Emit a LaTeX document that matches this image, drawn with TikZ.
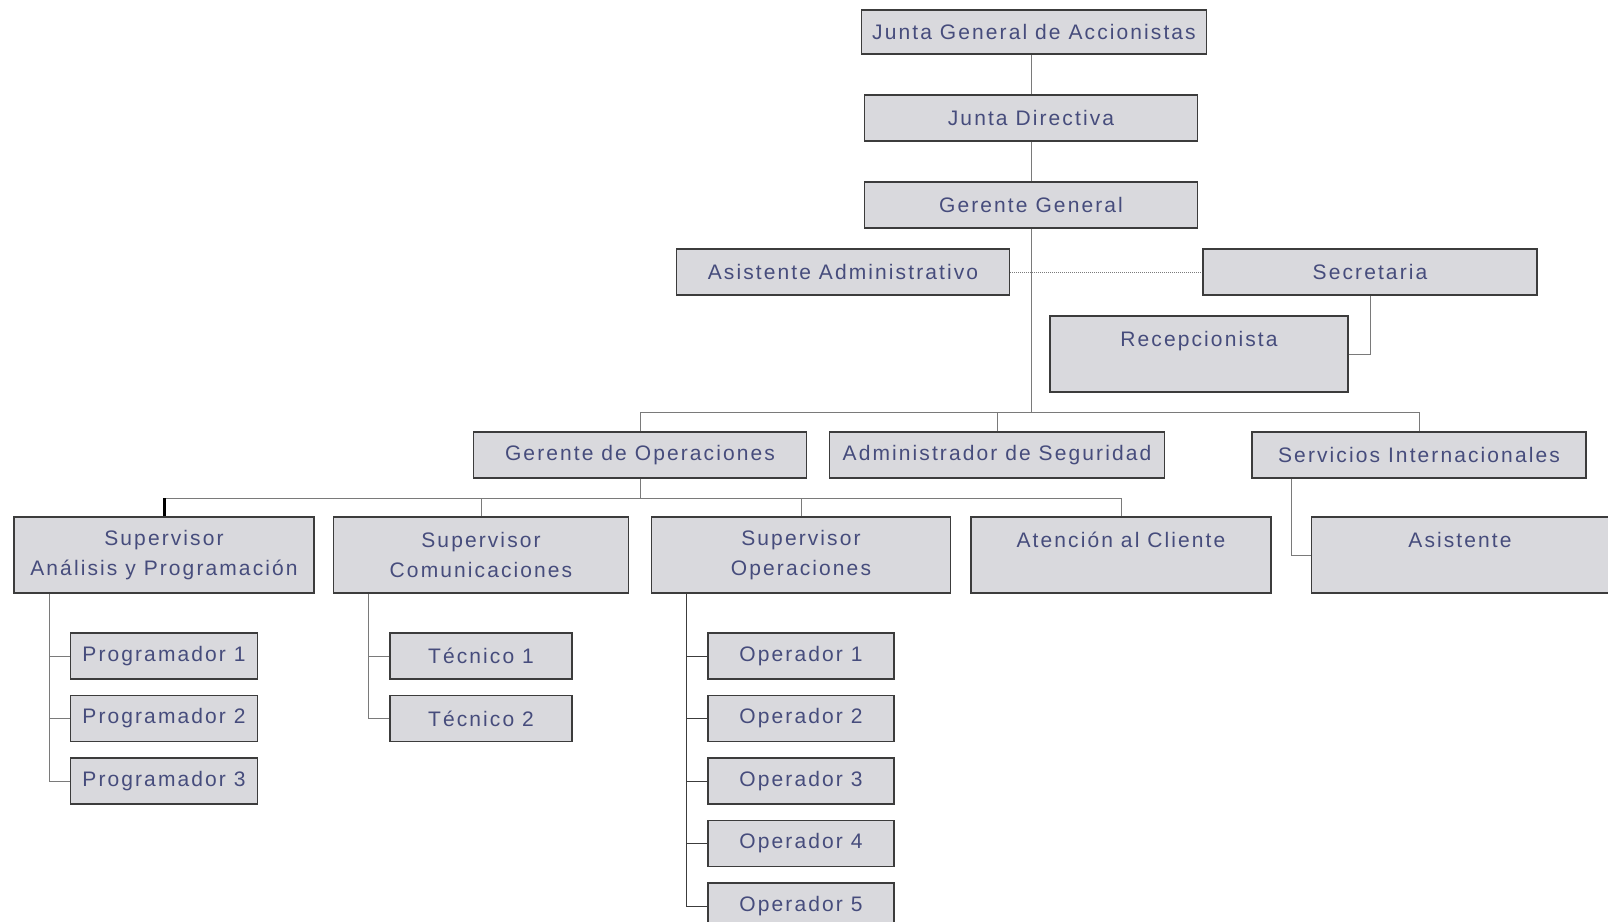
\documentclass[tikz,border=0pt]{standalone}
\usepackage{fontspec}
\setmainfont[LetterSpace=10]{Liberation Sans}
\usetikzlibrary{positioning}
\definecolor{cajafondo}{HTML}{D9D9DD}
\definecolor{cajaborde}{HTML}{3C3C3C}
\definecolor{textoazul}{HTML}{464C7C}
\definecolor{lineagris}{HTML}{7A7A7A}

\begin{document}
\begin{tikzpicture}[x=1pt, y=-1pt,
        puesto/.style={rectangle, draw=cajaborde, fill=cajafondo, line width=1.5pt,
            text=textoazul, align=center, minimum height=46pt,
            font=\fontsize{21}{30}\selectfont},
        alto/.style={minimum height=76pt},
        linea/.style={draw=lineagris, line width=1pt}]
        \useasboundingbox (0,0) rectangle (1608,921);

        % direccion
        \node[puesto, minimum width=345pt, minimum height=44pt] (junta) at (1034,32) {Junta General de Accionistas};
        \node[puesto, minimum width=333pt] (directiva) at (1031,118) {Junta Directiva};
        \node[puesto, minimum width=333pt] (gerente) at (1031,205) {Gerente General};
        \node[puesto, minimum width=333pt] (asistadm) at (843,272) {Asistente Administrativo};
        \node[puesto, minimum width=334pt] (secre) at (1370,272) {Secretaria};
        \node[puesto, alto, minimum width=298pt] (recep) at (1199,354) {Recepcionista\\\mbox{}};

        % gerencias
        \node[puesto, minimum width=333pt] (gerop) at (640,455) {Gerente de Operaciones};
        \node[puesto, minimum width=335pt] (admseg) at (997,455) {Administrador de Seguridad};
        \node[puesto, minimum width=334pt] (servint) at (1419,455) {Servicios Internacionales};

        % supervisores
        \node[puesto, alto, minimum width=300pt] (supanal) at (164,555) {Supervisor\\Análisis y Programación};
        \node[puesto, alto, minimum width=295pt] (supcom) at (481,555) {Supervisor\\Comunicaciones};
        \node[puesto, alto, minimum width=299pt] (supop) at (801,555) {Supervisor\\Operaciones};
        \node[puesto, alto, minimum width=300pt] (atencion) at (1121,555) {Atención al Cliente\\\mbox{}};
        \node[puesto, alto, minimum width=297pt] (asist) at (1460,555) {Asistente\\\mbox{}};

        % personal
        \node[puesto, minimum width=187pt] (prog1) at (164,656) {Programador 1};
        \node[puesto, minimum width=187pt] (prog2) [below=15pt of prog1] {Programador 2};
        \node[puesto, minimum width=187pt] (prog3) [below=15pt of prog2] {Programador 3};
        \node[puesto, minimum width=182pt] (tec1) at (481,656) {Técnico 1};
        \node[puesto, minimum width=182pt] (tec2) [below=15pt of tec1] {Técnico 2};
        \node[puesto, minimum width=186pt] (oper1) at (801,656) {Operador 1};
        \node[puesto, minimum width=186pt] (oper2) [below=15pt of oper1] {Operador 2};
        \node[puesto, minimum width=186pt] (oper3) [below=15pt of oper2] {Operador 3};
        \node[puesto, minimum width=186pt] (oper4) [below=15pt of oper3] {Operador 4};
        \node[puesto, minimum width=186pt] (oper5) [below=15pt of oper4] {Operador 5};

        \coordinate (bus1) at (1031,412);
        \coordinate (bus2) at (640,498);

        \draw[linea] (directiva.north |- junta.south) -- (directiva.north);
        \draw[linea] (directiva.south) -- (gerente.north);
        \draw[linea] (gerente.south) -- (bus1);
        \draw[linea, densely dotted] (asistadm.east) -- (secre.west);
        \draw[linea] (secre.south) |- (recep.east);

        \draw[linea] (gerop.north) |- (bus1);
        \draw[linea] (admseg.north) |- (bus1);
        \draw[linea] (servint.north) |- (bus1);

        \draw[linea] (gerop.south) -- (bus2);
        \draw[linea] (supanal.north |- bus2) -- (bus2);
        \draw[line width=3pt] (supanal.north) -- (supanal.north |- bus2);
        \draw[linea] (supcom.north) |- (bus2);
        \draw[linea] (supop.north) |- (bus2);
        \draw[linea] (atencion.north) |- (bus2);
        \draw[linea] ([xshift=40pt]servint.south west) |- (asist.west);

        \foreach \n in {prog1,prog2,prog3}
            \draw[linea] ([xshift=36pt]supanal.south west) |- (\n.west);
        \foreach \n in {tec1,tec2}
            \draw[linea] ([xshift=36pt]supcom.south west) |- (\n.west);
        \foreach \n in {oper1,oper2,oper3,oper4,oper5}
            \draw[linea, draw=cajaborde] ([xshift=36pt]supop.south west) |- (\n.west);
    \end{tikzpicture}
\end{document}
